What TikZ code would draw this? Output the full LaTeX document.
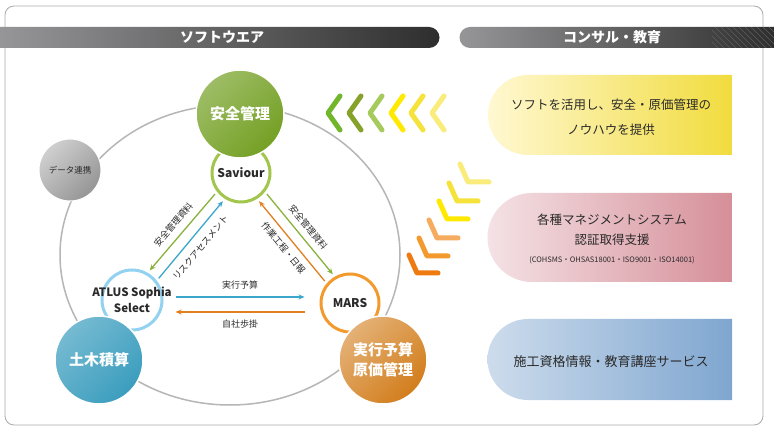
\documentclass[tikz,border=0pt]{standalone}
\usepackage{fontspec}
\setmainfont{Noto Sans CJK JP}
\usetikzlibrary{positioning, arrows.meta, calc}
\definecolor{framegray}{HTML}{ABABAB}
\definecolor{ringgray}{HTML}{B6B6B6}
\definecolor{barlight}{HTML}{969698}
\definecolor{bardark}{HTML}{2E2E2E}
\definecolor{txtgray}{HTML}{2A2A2A}
\definecolor{anzgreen}{HTML}{74A024}
\definecolor{savgreen}{HTML}{A2C64C}
\definecolor{dobblue}{HTML}{3B9DBE}
\definecolor{atlblue}{HTML}{92D1F0}
\definecolor{jikorange}{HTML}{D27D1B}
\definecolor{marsorange}{HTML}{F39A2E}
\definecolor{datagray}{HTML}{959595}
\definecolor{flowgreen}{HTML}{89B23A}
\definecolor{flowblue}{HTML}{3AA7CB}
\definecolor{floworange}{HTML}{E0801F}
\definecolor{chgreenA}{HTML}{72B62B}
\definecolor{chgreenB}{HTML}{87A22A}
\definecolor{chgreenC}{HTML}{A6CB5C}
\definecolor{chyelA}{HTML}{FFE900}
\definecolor{chyelB}{HTML}{F5E23A}
\definecolor{chyelC}{HTML}{F9EC7A}
\definecolor{chorA}{HTML}{EE7B12}
\definecolor{chorB}{HTML}{F39A2F}
\definecolor{chorC}{HTML}{F6AC5E}
\definecolor{knowL}{HTML}{FFF8D2}
\definecolor{knowR}{HTML}{F1DC3E}
\definecolor{certL}{HTML}{F4E2E5}
\definecolor{certR}{HTML}{D68F99}
\definecolor{eduL}{HTML}{CDDCEC}
\definecolor{eduR}{HTML}{7FA6D0}

\begin{document}
\begin{tikzpicture}[x=1pt, y=1pt,
    every node/.style={font=\fontsize{9}{11}\selectfont, text=txtgray},
    bigc/.style={circle, minimum size=88pt, inner sep=0pt, draw=white, line width=1.5pt, align=center,
      text=white, font=\fontsize{15}{20}\selectfont\bfseries},
    ring/.style={circle, minimum size=58pt, inner sep=0pt, fill=white, line width=3pt, align=center,
      font=\fontsize{12}{14}\selectfont\bfseries},
    flow/.style={-{Stealth[length=6pt, width=5pt]}, line width=1.3pt, shorten <=3pt, shorten >=3pt},
    side/.style={font=\fontsize{9}{11}\selectfont, sloped, inner sep=2pt},
    headtxt/.style={text=white, font=\fontsize{14}{16}\selectfont\bfseries},
    chev/.style={line width=5pt, line cap=round, line join=round},
    panel/.style={align=center, text=txtgray, font=\fontsize{12.5}{25}\selectfont},
  ]
  \useasboundingbox (0,0) rectangle (774,434);
  \fill[white] (0,0) rectangle (774,434);

  % Frame and headings
  \draw[framegray, line width=0.8pt, rounded corners=9pt] (5,9) rectangle (763,428);
  \shade[left color=barlight, middle color=bardark!85!white, right color=bardark]
    (0,386) -- (429,386) arc[start angle=-90, end angle=90, radius=10.5] -- (0,407) -- cycle;
  \shade[left color=barlight, middle color=bardark!80!white, right color=bardark]
    (774,386) -- (470,386) arc[start angle=270, end angle=90, radius=10.5] -- (774,407) -- cycle;
  \begin{scope}
    \clip (712,386) rectangle (774,407);
    \foreach \hx in {712,718,...,800}
      \draw[white!22!bardark, line width=0.6pt] (\hx,386) -- ++(-21,21);
  \end{scope}
  \node[headtxt] (swhead) at (222,396.5) {ソフトウエア};
  \node[headtxt] (eduhead) at (612,396.5) {コンサル・教育};

  % Software cycle
  \draw[ringgray, line width=1.5pt] (230,179) ellipse [x radius=170, y radius=150];
  \node[circle, minimum size=62pt, inner sep=0pt, draw=white, line width=1pt,
    top color=datagray!45!white, bottom color=datagray, shading angle=45,
    font=\fontsize{8.5}{10}\selectfont] (data) at (70,264) {データ連携};

  \node[ring, draw=savgreen] (sav) at (241,261) {Saviour};
  \node[ring, draw=atlblue, minimum size=60pt] (atl) at (132,134) {};
  \node[align=center, font=\fontsize{11.5}{16}\selectfont\bfseries] (atltxt) at (atl) {ATLUS Sophia\\Select};
  \node[ring, draw=marsorange] (mars) at (350,131) {MARS};

  \node[bigc, top color=anzgreen!70!white, bottom color=anzgreen, shading angle=45] (anzen) at (240,320) {安全管理};
  \node[bigc, top color=dobblue!70!white, bottom color=dobblue, shading angle=45] (doboku) at (99,74) {土木積算};
  \node[bigc, top color=jikorange!60!white, bottom color=jikorange, shading angle=45] (jikko) at (383,74) {実行予算\\原価管理};

  % Data flows
  \draw[flow, flowgreen] (sav.218) -- (atl.60) node[side, midway, above=5pt] (lblsafeA) {安全管理資料};
  \draw[flow, flowblue] (atl.38) -- (sav.238) node[side, midway, below=6pt] (lblrisk) {リスクアセスメント};
  \draw[flow, floworange] (mars.140) -- (sav.302) node[side, midway, below=4pt] (lblwork) {作業工程・日報};
  \draw[flow, flowgreen] (sav.322) -- (mars.120) node[side, midway, above=4pt] (lblsafeB) {安全管理資料};
  \draw[flow, flowblue] ($(atl.east)+(9,3)$) -- ($(atl.east -| mars.west)+(-12,3)$)
    node[midway, above=4pt] (lblbudget) {実行予算};
  \draw[flow, floworange] ($(atl.east -| mars.west)+(-12,-12)$) -- ($(atl.east)+(9,-12)$)
    node[midway, below=3.5pt] (lblstep) {自社歩掛};

  % Chevrons
  \draw[chev, chgreenA] (340,338) -- (328,321) -- (340,304);
  \draw[chev, chgreenB] (361,338) -- (349,321) -- (361,304);
  \draw[chev, chgreenC] (382,338) -- (370,321) -- (382,304);
  \draw[chev, chyelA] (403,338) -- (391,321) -- (403,304);
  \draw[chev, chyelB] (423,338) -- (411,321) -- (423,304);
  \draw[chev, chyelC] (444,338) -- (432,321) -- (444,304);

  \draw[chev, chorA] (409,179) -- (417,161) -- (438,161);
  \draw[chev, chorB] (419,196) -- (427,178) -- (448,178);
  \draw[chev, chorC] (429,214) -- (437,196) -- (458,196);
  \draw[chev, chyelA] (439,233) -- (447,215) -- (468,215);
  \draw[chev, chyelB] (449,251) -- (457,233) -- (478,233);
  \draw[chev, chyelC] (460,270) -- (468,252) -- (489,252);

  % Consulting panels
  \shade[left color=knowL, right color=knowR]
    (732,279) -- (528,279) arc[start angle=270, end angle=90, radius=40] -- (732,359) -- cycle;
  \node[panel] (knowhow) at (611,317) {ソフトを活用し、安全・原価管理の\\ノウハウを提供};

  \shade[left color=certL, right color=certR]
    (732,152) -- (532,152) arc[start angle=270, end angle=90, radius=44.5] -- (732,241) -- cycle;
  \node[panel, font=\fontsize{12.5}{20}\selectfont] (cert) at (612,204) {各種マネジメントシステム\\認証取得支援};
  \node[font=\fontsize{7.5}{9}\selectfont] (certstd) at (612,174) {(COHSMS・OHSAS18001・ISO9001・ISO14001)};

  \shade[left color=eduL, right color=eduR]
    (732,34) -- (528,34) arc[start angle=270, end angle=90, radius=40.5] -- (732,115) -- cycle;
  \node[panel, font=\fontsize{13}{16}\selectfont] (edu) at (611,72) {施工資格情報・教育講座サービス};
\end{tikzpicture}
\end{document}
